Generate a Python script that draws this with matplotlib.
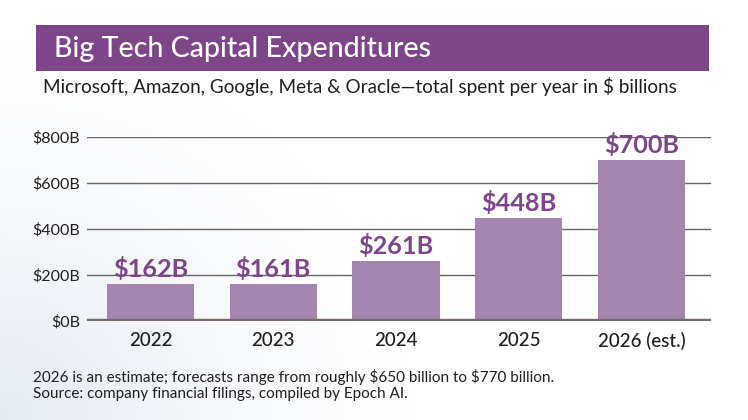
import matplotlib
matplotlib.use("Agg")
import matplotlib.pyplot as plt
import numpy as np
from matplotlib.patches import Rectangle

years = ["2022", "2023", "2024", "2025", "2026 (est.)"]
capex = [162, 161, 261, 448, 700]
value_labels = ["$162B", "$161B", "$261B", "$448B", "$700B"]
y_ticks = [0, 200, 400, 600, 800]
y_tick_labels = ["$0B", "$200B", "$400B", "$600B", "$800B"]

TITLE = "Big Tech Capital Expenditures"
SUBTITLE = "Microsoft, Amazon, Google, Meta & Oracle\u2014total spent per year in $ billions"
NOTE_1 = "2026 is an estimate; forecasts range from roughly $650 billion to $770 billion."
NOTE_2 = "Source: company financial filings, compiled by Epoch AI."

PURPLE = "#7D4689"
BAR = "#A385B0"
INK = "#1F1F1F"
W, H = 748, 420

plt.rcParams["font.family"] = ["Lato", "DejaVu Sans"]
plt.rcParams["text.parse_math"] = False

fig = plt.figure(figsize=(W / 100, H / 100), dpi=100)

# faint blue-grey wash in the lower left corner
bg = fig.add_axes([0, 0, 1, 1], zorder=-10)
gx, gy = np.meshgrid(np.linspace(0, 1, 200), np.linspace(0, 1, 120))
d = np.sqrt((gx / 0.55) ** 2 + ((1 - gy) / 0.9) ** 2)
w = np.clip(1 - d, 0, 1) ** 1.3
c0 = np.array([1.0, 1.0, 1.0])
c1 = np.array([0.90, 0.92, 0.95])
img = c0[None, None, :] * (1 - w[..., None]) + c1[None, None, :] * w[..., None]
bg.imshow(img, extent=[0, 1, 0, 1], aspect="auto", origin="upper")
bg.set_xlim(0, 1)
bg.set_ylim(0, 1)
bg.axis("off")

renderer = fig.canvas.get_renderer()


def fit(txt, width_px):
    bb = txt.get_window_extent(renderer)
    txt.set_fontsize(txt.get_fontsize() * width_px / bb.width)


# title banner
fig.patches.append(Rectangle((36 / W, 1 - 71 / H), (709 - 36) / W, 46 / H,
                             transform=fig.transFigure, facecolor=PURPLE,
                             edgecolor="none", zorder=1))
t = fig.text(54 / W, 1 - 57 / H, TITLE, color="white", fontsize=20,
             fontweight="medium", va="baseline", ha="left", zorder=2)
fit(t, 378)
s = fig.text(43 / W, 1 - 93 / H, SUBTITLE, color=INK, fontsize=12,
             va="baseline", ha="left")
fit(s, 630)

# chart
ax = fig.add_axes([87 / W, 1 - 321 / H, (711 - 87) / W, (321 - 137) / H])
ax.set_facecolor("none")
x = np.arange(len(years))
ax.bar(x, capex, width=0.71, color=BAR, zorder=2)
ax.set_xlim(-0.517, 4.566)
ax.set_ylim(0, 800)
for v in y_ticks[1:]:
    ax.axhline(v, color="#666666", linewidth=1.0, zorder=1)
ax.axhline(0, color="#756C69", linewidth=3.2, zorder=3)

for xi, v, lab in zip(x, capex, value_labels):
    vt = ax.annotate(lab, (xi, v), xytext=(0, 5), textcoords="offset points",
                     ha="center", va="baseline", color=PURPLE, fontsize=20,
                     fontweight="bold", zorder=4, annotation_clip=False)
    if lab == "$162B":
        fit(vt, 75)
        label_size = vt.get_fontsize()
for t_ in ax.texts:
    t_.set_fontsize(label_size)

ax.set_yticks(y_ticks)
ax.set_yticklabels(y_tick_labels)
ax.set_xticks(x)
ax.set_xticklabels(years)
ax.tick_params(axis="y", length=0, pad=5, labelsize=11.5, labelcolor=INK)
ax.tick_params(axis="x", length=0, pad=8, labelsize=13.5, labelcolor=INK)
for lbl in ax.get_xticklabels():
    lbl.set_fontweight("medium")
for sp in ax.spines.values():
    sp.set_visible(False)

n1 = fig.text(33 / W, 1 - 382 / H, NOTE_1, color=INK, fontsize=10,
              va="baseline", ha="left")
fit(n1, 519)
n2 = fig.text(33 / W, 1 - 398 / H, NOTE_2, color=INK,
              fontsize=n1.get_fontsize(), va="baseline", ha="left")

fig.savefig("out.png", dpi=100)
